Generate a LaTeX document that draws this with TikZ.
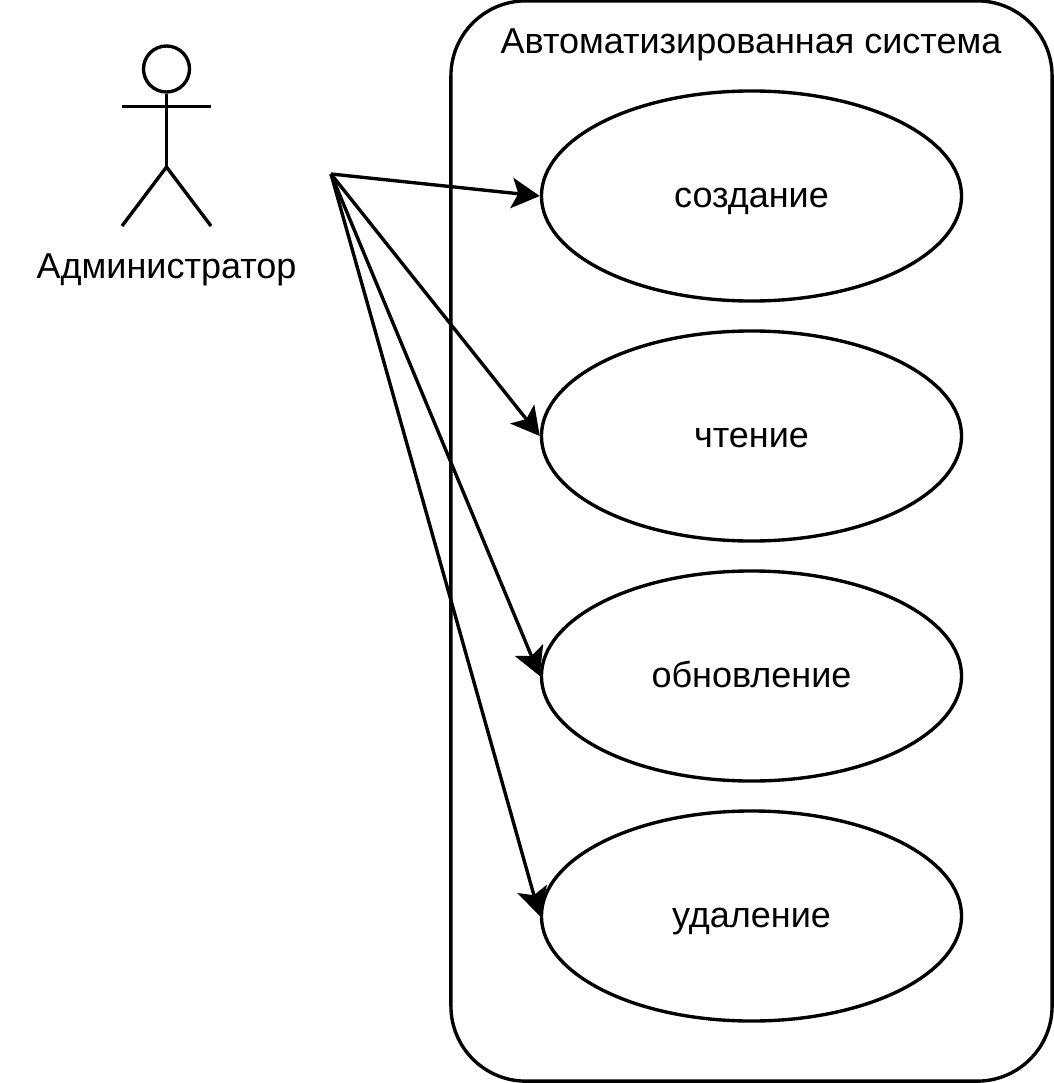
\documentclass[tikz,border=0pt]{standalone}
\usepackage{fontspec}
\setmainfont{Liberation Sans}
\usetikzlibrary{arrows.meta,positioning,shapes.geometric}
\tikzset{
  usecase/.style={draw,ellipse,fill=white,minimum width=10.5cm,minimum height=5.25cm,inner sep=0pt,text height=0.7cm,text depth=0.134cm},
  actorline/.style={line cap=butt},
  assoc/.style={-{Stealth[length=0.7cm,width=0.76cm,inset=0.16cm]}},
  txt/.style={font=\fontsize{25.6}{30}\selectfont}
}
\begin{document}
\begin{tikzpicture}[x=0.025cm,y=-0.025cm,line width=2.4pt,every node/.append style={txt}]
\useasboundingbox(0,0)rectangle(1053,1083);
\node[draw,rounded corners=1.875cm,minimum width=15.025cm,minimum height=27cm,inner sep=0pt](sys)at(751.5,541){};
\node[anchor=base](title)at(751,53.3){Автоматизированная система};
\node[usecase](create)at(751.5,196){создание};
\node[usecase](read)at(751.5,436){чтение};
\node[usecase](update)at(751.5,676){обновление};
\node[usecase](delete)at(751.5,916){удаление};
\node[draw,circle,minimum size=1.15cm,inner sep=0pt](head)at(166.5,69){};
\coordinate(arml) at(122,106.5);
\coordinate(armr) at(211,106.5);
\coordinate(hip) at(166.5,167);
\coordinate(legl) at(122,226);
\coordinate(legr) at(211,226);
\draw[actorline](head.south)--(hip);
\draw[actorline](arml)--(armr);
\draw[actorline](legl)--(hip)--(legr);
\node[anchor=base](admin)at(166.5,278){Администратор};
\coordinate(src) at(331,174);
\draw[assoc](src)--(create.west);
\draw[assoc](src)--(read.west);
\draw[assoc](src)--(update.west);
\draw[assoc](src)--(delete.west);
\end{tikzpicture}
\end{document}
